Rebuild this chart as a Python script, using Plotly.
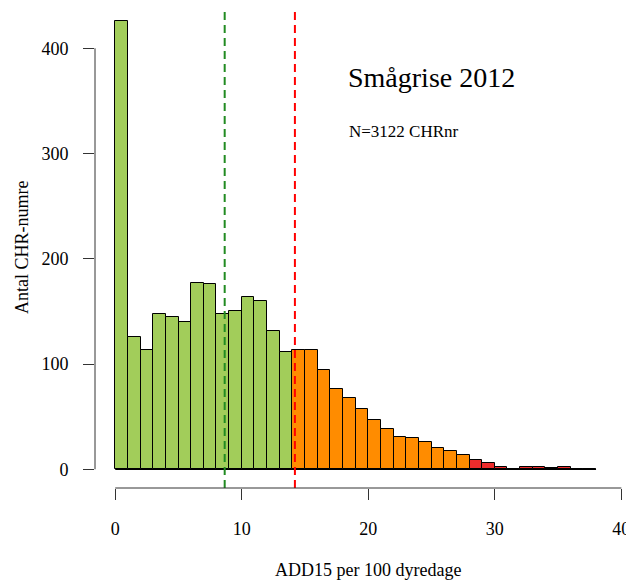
import plotly.graph_objects as go

# histogram data: counts per 1-unit bin starting at 0
bin_start = 0
bin_width = 1
counts = [426, 126, 113, 148, 145, 140, 177, 176, 148, 150, 164, 160, 131, 111,
          113, 113, 94, 76, 68, 57, 47, 38, 31, 30, 26, 20, 17, 14,
          9, 6, 2, 0, 2, 2, 1, 2, 0, 0]

# colour groups (bin left edge thresholds)
orange_from = 14
red_from = 28
green_line = 8.65
red_line = 14.2

title_text = "Smågrise 2012"
n_text = "N=3122 CHRnr"
x_title = "ADD15 per 100 dyredage"
y_title = "Antal CHR-numre"
x_ticks = [0, 10, 20, 30, 40]
y_ticks = [0, 100, 200, 300, 400]

GREEN = "#A2CD5A"
ORANGE = "#FF8C00"
RED = "#EE2C2C"
FONT = "Liberation Serif"

lefts = [bin_start + i * bin_width for i in range(len(counts))]
centers = [l + bin_width / 2 for l in lefts]
colors = [GREEN if l < orange_from else ORANGE if l < red_from else RED for l in lefts]

fig = go.Figure()

fig.add_trace(go.Bar(
    x=centers, y=counts, width=bin_width,
    marker=dict(color=colors, line=dict(color="black", width=1)),
    showlegend=False, hoverinfo="x+y",
))

# baseline where empty bins still show their border
fig.add_shape(type="line", x0=lefts[0], x1=lefts[-1] + bin_width, y0=0, y1=0,
              line=dict(color="black", width=1.5), layer="below")

# dashed reference lines
for xv, c in [(green_line, "#228B22"), (red_line, "red")]:
    fig.add_shape(type="line", x0=xv, x1=xv, yref="paper", y0=0, y1=1,
                  line=dict(color=c, width=2, dash="8px,5px"))

# R-style detached axis lines
fig.add_shape(type="line", x0=x_ticks[0], x1=x_ticks[-1], yref="paper", y0=0, y1=0,
              line=dict(color="#333", width=1))
fig.add_shape(type="line", xref="paper", x0=0, x1=0, y0=y_ticks[0], y1=y_ticks[-1],
              line=dict(color="#333", width=1))

fig.add_annotation(x=0.6234, y=0.856, xref="paper", yref="paper", text=title_text,
                   xanchor="center", yanchor="middle", showarrow=False,
                   font=dict(size=28, color="black", family=FONT))
fig.add_annotation(x=0.4675, y=0.7417, xref="paper", yref="paper", text=n_text,
                   xanchor="left", yanchor="middle", showarrow=False,
                   font=dict(size=17, color="black", family=FONT))

# axis titles placed like base R graphics
fig.add_annotation(x=20, y=-0.171, xref="x", yref="paper", text=x_title,
                   xanchor="center", yanchor="middle", showarrow=False,
                   font=dict(size=18, color="black", family=FONT))
fig.add_annotation(x=-0.1354, y=0.5, xref="paper", yref="y domain", text=y_title,
                   textangle=-90, showarrow=False, xanchor="center", yanchor="middle",
                   font=dict(size=18, color="black", family=FONT))

# the page adds an 8px body margin, so the figure is sized to fit inside it
fig.update_layout(
    width=626, height=572,
    margin=dict(l=87, r=0, t=0, b=92, autoexpand=False),
    plot_bgcolor="white", paper_bgcolor="white",
    font=dict(family=FONT, size=18, color="black"),
    bargap=0,
    xaxis=dict(range=[-1.6, 41.0], tickvals=x_ticks, ticks="outside", ticklen=11,
               tickcolor="#333", showgrid=False, zeroline=False, showline=False,
               ticklabelstandoff=13, automargin=False),
    yaxis=dict(range=[-17.8, 438.3], tickvals=y_ticks, ticks="outside", ticklen=11,
               tickcolor="#333", showgrid=False, zeroline=False, showline=False,
               ticklabelstandoff=11, automargin=False),
)

fig.write_html("out.html")
